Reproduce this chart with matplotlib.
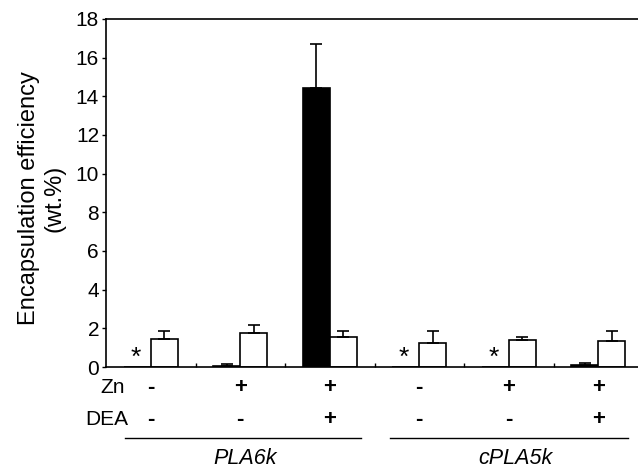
import numpy as np
import matplotlib
matplotlib.use("Agg")
import matplotlib.pyplot as plt
from matplotlib.transforms import blended_transform_factory

plt.rcParams['font.family'] = ['Liberation Sans', 'DejaVu Sans']

# data
black_vals = [0.0, 0.07, 14.45, 0.0, 0.0, 0.12]
black_err = [0.0, 0.06, 2.28, 0.0, 0.0, 0.08]
white_vals = [1.45, 1.75, 1.55, 1.25, 1.42, 1.32]
white_err = [0.43, 0.44, 0.33, 0.63, 0.15, 0.56]
starred = [True, False, False, True, True, False]
zn_signs = ["-", "+", "+", "-", "+", "+"]
dea_signs = ["-", "-", "+", "-", "-", "+"]
polymers = ["PLA6k", "cPLA5k"]

fig = plt.figure(figsize=(6.38, 4.69), dpi=100)
W, H = 638, 469
ax = fig.add_axes([106 / W, (H - 367) / H, (643 - 106) / W, (367 - 19) / H])

x = np.arange(6) + 0.5
bw = 0.3
ax.bar(x - bw / 2, black_vals, bw, color="black", edgecolor="black", linewidth=1.2)
ax.bar(x + bw / 2, white_vals, bw, color="white", edgecolor="black", linewidth=1.2)

for xi, v, e in zip(x - bw / 2, black_vals, black_err):
    if v > 0:
        ax.errorbar(xi, v, yerr=[[0], [e]], fmt="none", ecolor="black",
                    elinewidth=1.2, capsize=4.5, capthick=1.2)
for xi, v, e in zip(x + bw / 2, white_vals, white_err):
    ax.errorbar(xi, v, yerr=[[0], [e]], fmt="none", ecolor="black",
                elinewidth=1.2, capsize=4.5, capthick=1.2)

for xi, s in zip(x - bw / 2, starred):
    if s:
        ax.text(xi - 0.02, 0.45, "*", ha="center", va="center", fontsize=19)

ax.set_xlim(0, 6)
ax.set_ylim(0, 18)
ax.set_yticks(np.arange(0, 19, 2))
ax.tick_params(axis="y", labelsize=15, direction="out", length=3, width=1, pad=2)
ax.set_xticks(np.arange(1, 6))
ax.set_xticklabels([])
ax.tick_params(axis="x", direction="in", length=3, width=1)
ax.spines["right"].set_visible(False)
for sp in ["left", "bottom", "top"]:
    ax.spines[sp].set_linewidth(1.2)

tr = blended_transform_factory(ax.transData, ax.transAxes)
ax.text(0.21, -0.06, "Zn", transform=tr, ha="right", va="center", fontsize=15)
ax.text(0.25, -0.152, "DEA", transform=tr, ha="right", va="center", fontsize=15)
for xi, zs, ds in zip(x, zn_signs, dea_signs):
    ax.text(xi, -0.06, zs, transform=tr, ha="center", va="center",
            fontsize=16, fontweight="bold")
    ax.text(xi, -0.152, ds, transform=tr, ha="center", va="center",
            fontsize=16, fontweight="bold")

ax.plot([0.21, 2.85], [-0.204, -0.204], transform=tr, color="black",
        lw=1, clip_on=False)
ax.plot([3.17, 5.83], [-0.204, -0.204], transform=tr, color="black",
        lw=1, clip_on=False)
ax.text(1.55, -0.262, polymers[0], transform=tr, ha="center", va="center",
        fontsize=15.5, style="italic")
ax.text(4.58, -0.262, polymers[1], transform=tr, ha="center", va="center",
        fontsize=15.5, style="italic")

fig.text(42 / W, 1 - 198 / H, "Encapsulation efficiency\n(wt.%)", rotation=90,
         ha="center", va="center", multialignment="center", fontsize=17,
         linespacing=1.2)

fig.savefig("out.png", dpi=100)
